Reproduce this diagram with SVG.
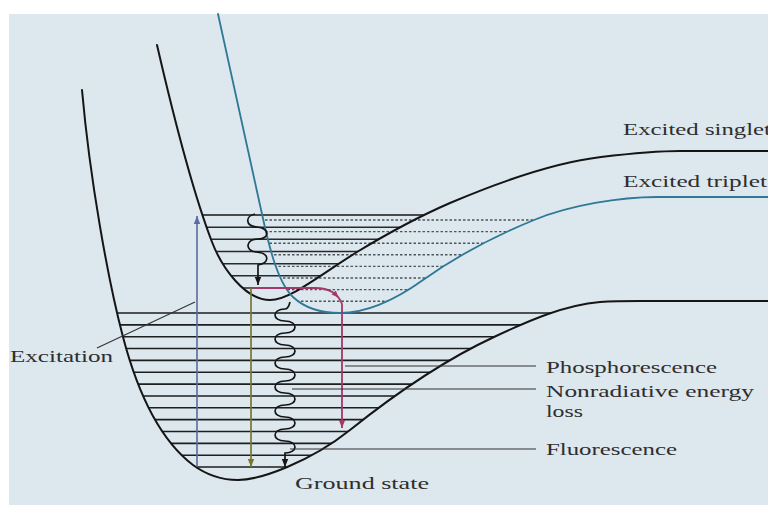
<svg xmlns="http://www.w3.org/2000/svg" width="768" height="505" viewBox="0 0 768 505">
<style>
.curve{fill:none;stroke:#151515;stroke-width:2;stroke-linecap:round}
.trip{fill:none;stroke:#2f7896;stroke-width:1.8;stroke-linecap:round}
.glvl{stroke:#1e1e1e;stroke-width:1.6}
.slvl{stroke:#2a2a2a;stroke-width:1.6}
.tlvl{stroke:#4c545c;stroke-width:1.4;stroke-dasharray:2.5 2}
.lead{stroke:#333;stroke-width:1.1}
.wave{fill:none;stroke:#151515;stroke-width:1.7}
text{font-family:"Liberation Serif","Times New Roman",serif;font-size:17px;fill:#2e2e2e}
</style>
<defs>
<clipPath id="groundWell"><path d="M 82 90 C 90 180, 108 280, 123 337 C 138 394, 160 440, 193 465 C 208 476, 222 480, 238 480 C 260 480, 310 462, 350 430 C 390 398, 440 362, 494 337 C 530 320, 565 305, 600 302 C 620 300.5, 640 301, 660 301 L 768 301 L 768 60 L 82 60 Z"/></clipPath>
<clipPath id="singletWell"><path d="M 157 45 C 172 110, 192 190, 212 242 C 222 268, 245 300, 270 300 C 290 300, 320 275, 357 252 C 390 232, 420 216, 450 203 C 490 186, 550 163, 601 157 C 630 153.6, 655 151, 680 151 L 768 151 L 768 30 L 157 30 Z"/></clipPath>
<clipPath id="tripletWell"><path d="M 218 14 L 260 205 C 266 232, 275 280, 293 297 C 305 308.3, 320 313, 340 313 C 365 313, 395 300, 423 280 C 451 260, 490 238, 534 220 C 570 205.3, 620 197, 657 197 L 768 197 L 768 10 L 218 10 Z"/></clipPath>
<marker id="ahK" viewBox="0 0 10 10" refX="10" refY="5" markerWidth="8" markerHeight="8" markerUnits="userSpaceOnUse" orient="auto"><path d="M0,1 L10,5 L0,9 Z" fill="#151515"/></marker>
<marker id="ahB" viewBox="0 0 10 10" refX="10" refY="5" markerWidth="8" markerHeight="8" markerUnits="userSpaceOnUse" orient="auto"><path d="M0,1 L10,5 L0,9 Z" fill="#5b6aa0"/></marker>
<marker id="ahO" viewBox="0 0 10 10" refX="10" refY="5" markerWidth="8" markerHeight="8" markerUnits="userSpaceOnUse" orient="auto"><path d="M0,1 L10,5 L0,9 Z" fill="#77782e"/></marker>
<marker id="ahM" viewBox="0 0 10 10" refX="10" refY="5" markerWidth="8" markerHeight="8" markerUnits="userSpaceOnUse" orient="auto"><path d="M0,1 L10,5 L0,9 Z" fill="#a3386a"/></marker>
</defs>

<rect x="0" y="0" width="768" height="505" fill="#ffffff"/>
<rect x="9" y="14" width="759" height="491" fill="#dce7ee"/>

<g id="triplet-levels" clip-path="url(#tripletWell)">
<line class="tlvl" x1="220" y1="220" x2="700" y2="220"/>
<line class="tlvl" x1="220" y1="231.6" x2="700" y2="231.6"/>
<line class="tlvl" x1="220" y1="243.2" x2="700" y2="243.2"/>
<line class="tlvl" x1="220" y1="254.8" x2="700" y2="254.8"/>
<line class="tlvl" x1="220" y1="266.4" x2="700" y2="266.4"/>
<line class="tlvl" x1="220" y1="278" x2="700" y2="278"/>
<line class="tlvl" x1="220" y1="289.6" x2="700" y2="289.6"/>
<line class="tlvl" x1="220" y1="301.2" x2="700" y2="301.2"/>
</g>

<g id="singlet-levels" clip-path="url(#singletWell)">
<line class="slvl" x1="150" y1="215" x2="600" y2="215" style="stroke:#4a4a4a;stroke-width:2.2"/>
<line class="slvl" x1="150" y1="227.2" x2="600" y2="227.2"/>
<line class="slvl" x1="150" y1="239.3" x2="600" y2="239.3"/>
<line class="slvl" x1="150" y1="251.5" x2="600" y2="251.5"/>
<line class="slvl" x1="150" y1="263.7" x2="600" y2="263.7"/>
<line class="slvl" x1="150" y1="275.8" x2="600" y2="275.8"/>
<line class="slvl" x1="150" y1="288" x2="600" y2="288"/>
</g>

<g id="ground-levels" clip-path="url(#groundWell)">
<line class="glvl" x1="90" y1="313" x2="700" y2="313"/>
<line class="glvl" x1="90" y1="324.85" x2="700" y2="324.85"/>
<line class="glvl" x1="90" y1="336.7" x2="700" y2="336.7"/>
<line class="glvl" x1="90" y1="348.55" x2="700" y2="348.55"/>
<line class="glvl" x1="90" y1="360.4" x2="700" y2="360.4"/>
<line class="glvl" x1="90" y1="372.25" x2="700" y2="372.25"/>
<line class="glvl" x1="90" y1="384.1" x2="700" y2="384.1"/>
<line class="glvl" x1="90" y1="395.95" x2="700" y2="395.95"/>
<line class="glvl" x1="90" y1="407.8" x2="700" y2="407.8"/>
<line class="glvl" x1="90" y1="419.65" x2="700" y2="419.65"/>
<line class="glvl" x1="90" y1="431.5" x2="700" y2="431.5"/>
<line class="glvl" x1="90" y1="443.35" x2="700" y2="443.35"/>
<line class="glvl" x1="90" y1="455.2" x2="700" y2="455.2"/>
<line class="glvl" x1="90" y1="467.05" x2="700" y2="467.05"/>
</g>

<g id="ground-state-curve">
<path class="curve" d="M 82 90 C 90 180, 108 280, 123 337 C 138 394, 160 440, 193 465 C 208 476, 222 480, 238 480 C 260 480, 310 462, 350 430 C 390 398, 440 362, 494 337 C 530 320, 565 305, 600 302 C 620 300.5, 640 301, 660 301 L 768 301"/>
</g>
<g id="excited-singlet-curve">
<path class="curve" d="M 157 45 C 172 110, 192 190, 212 242 C 222 268, 245 300, 270 300 C 290 300, 320 275, 357 252 C 390 232, 420 216, 450 203 C 490 186, 550 163, 601 157 C 630 153.6, 655 151, 680 151 L 768 151"/>
</g>
<g id="excited-triplet-curve">
<path class="trip" d="M 218 14 L 260 205 C 266 232, 275 280, 293 297 C 305 308.3, 320 313, 340 313 C 365 313, 395 300, 423 280 C 451 260, 490 238, 534 220 C 570 205.3, 620 197, 657 197 L 768 197"/>
</g>

<g id="connectors">
<line x1="197" y1="467" x2="197" y2="216" stroke="#5b6aa0" stroke-width="1.6" marker-end="url(#ahB)"/>
<line x1="251" y1="288" x2="251" y2="467" stroke="#77782e" stroke-width="1.7" marker-end="url(#ahO)"/>
<path d="M 253 288 L 315 288 Q 336 288 342 304 L 342 428" fill="none" stroke="#a3386a" stroke-width="1.8" marker-end="url(#ahM)"/>
<polygon points="338.5,297.5 331.5,294.4 335.9,290.4" fill="#a3386a"/>
<path class="wave" d="M 255 214 C 245 216, 245 226, 257 227 C 270 228, 270 239, 258 239 C 245 239, 245 251, 256 252 C 270 253, 270 263, 258 265 L 258 285" marker-end="url(#ahK)"/>
<path class="wave" d="M 290 302 C 289 306, 288 309, 285 309 C 271.7 309, 271.7 321, 285 321 C 298.3 321, 298.3 333, 285 333 C 271.7 333, 271.7 345, 285 345 C 298.3 345, 298.3 357, 285 357 C 271.7 357, 271.7 369, 285 369 C 298.3 369, 298.3 381, 285 381 C 271.7 381, 271.7 393, 285 393 C 298.3 393, 298.3 405, 285 405 C 271.7 405, 271.7 417, 285 417 C 298.3 417, 298.3 429, 285 429 C 271.7 429, 271.7 441, 285 441 C 298.3 441, 298.3 453, 285 453 L 285 467" marker-end="url(#ahK)"/>
<line class="lead" x1="97" y1="348" x2="195" y2="302"/>
<line class="lead" x1="345" y1="366" x2="536" y2="366"/>
<line class="lead" x1="292" y1="389" x2="536" y2="389"/>
<line class="lead" x1="290" y1="449" x2="536" y2="449"/>
</g>

<g id="labels">
<text x="623" y="135" textLength="148" lengthAdjust="spacingAndGlyphs">Excited singlet</text>
<text x="623" y="187" textLength="144" lengthAdjust="spacingAndGlyphs">Excited triplet</text>
<text x="10" y="362" textLength="103" lengthAdjust="spacingAndGlyphs">Excitation</text>
<text x="546" y="373" textLength="171" lengthAdjust="spacingAndGlyphs">Phosphorescence</text>
<text x="546" y="397" textLength="208" lengthAdjust="spacingAndGlyphs">Nonradiative energy</text>
<text x="546" y="417" textLength="37" lengthAdjust="spacingAndGlyphs">loss</text>
<text x="546" y="455" textLength="131" lengthAdjust="spacingAndGlyphs">Fluorescence</text>
<text x="295" y="489" textLength="134" lengthAdjust="spacingAndGlyphs">Ground state</text>
</g>
</svg>
